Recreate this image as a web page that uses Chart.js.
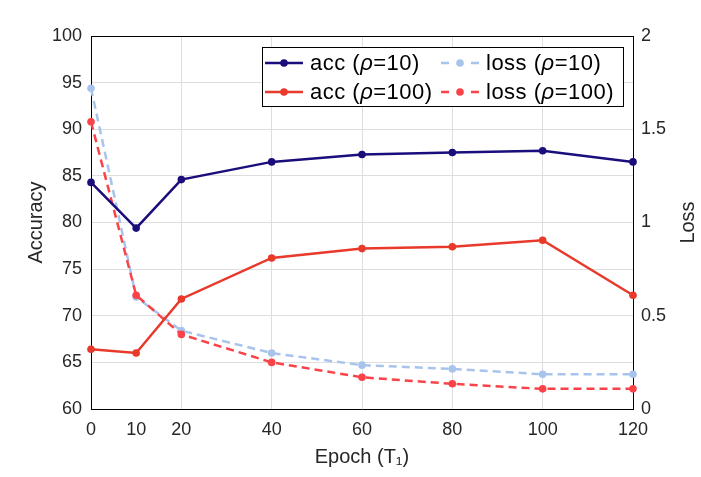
<!DOCTYPE html>
<html>
<head>
<meta charset="utf-8">
<script src="https://cdn.jsdelivr.net/npm/chart.js@4.4.0/dist/chart.umd.min.js"></script>
<style>
  body { margin: 0; background: #fff; }
  canvas { display: block; }
</style>
</head>
<body>
<canvas id="lossChart" width="701" height="477"></canvas>
<script>
// data
const epochs = [0, 10, 20, 40, 60, 80, 100, 120];
const xTicks = [0, 10, 20, 40, 60, 80, 100, 120];
const acc10 = [84.3, 79.4, 84.6, 86.5, 87.3, 87.5, 87.7, 86.5];
const acc100 = [66.4, 66.0, 71.8, 76.2, 77.2, 77.4, 78.1, 72.2];
const loss10 = [1.72, 0.60, 0.42, 0.30, 0.235, 0.215, 0.186, 0.186];
const loss100 = [1.54, 0.61, 0.40, 0.25, 0.17, 0.135, 0.108, 0.108];

const FONT = "'Liberation Sans', Arial, Helvetica, sans-serif";
const TXT = '#262626';

function pts(ys) {
  return epochs.map((x, i) => ({ x: x, y: ys[i] }));
}

function series(label, ys, color, axis, dashed, order) {
  return {
    label: label,
    data: pts(ys),
    yAxisID: axis,
    borderColor: color,
    backgroundColor: color,
    borderWidth: 2.5,
    borderDash: dashed ? [8, 5] : [],
    pointRadius: 3.8,
    pointHoverRadius: 3.8,
    pointBorderWidth: 0,
    tension: 0,
    clip: false,
    order: order,
    rho: label.match(/=(\d+)/)[1],
    kind: label.split(' ')[0]
  };
}

// legend box + top border + right axis title
const boxLegend = {
  id: 'boxLegend',
  afterDraw(chart) {
    const ctx = chart.ctx;
    const a = chart.chartArea;
    ctx.save();
    // top frame line
    ctx.strokeStyle = '#000';
    ctx.lineWidth = 1;
    ctx.beginPath();
    ctx.moveTo(a.left, a.top + 0.5);
    ctx.lineTo(a.right, a.top + 0.5);
    ctx.stroke();

    // "Loss" reading bottom to top
    ctx.fillStyle = TXT;
    ctx.font = '20px ' + FONT;
    ctx.textAlign = 'center';
    ctx.textBaseline = 'middle';
    ctx.translate(688, (a.top + a.bottom) / 2);
    ctx.rotate(-Math.PI / 2);
    ctx.fillText('Loss', 0, 0);
    ctx.restore();

    // legend
    ctx.save();
    const bx = a.right - 371, by = a.top + 11, bw = 361, bh = 59;
    ctx.fillStyle = '#fff';
    ctx.fillRect(bx, by, bw, bh);
    ctx.strokeStyle = '#000';
    ctx.lineWidth = 1;
    ctx.strokeRect(bx + 0.5, by + 0.5, bw, bh);

    const ds = chart.data.datasets;
    const cols = [bx + 3, bx + 179];
    const rows = [by + 16, by + 45];
    const place = [[0, 0], [0, 1], [1, 0], [1, 1]];
    ds.forEach((d, i) => {
      const x0 = cols[place[i][0]], y = rows[place[i][1]];
      ctx.strokeStyle = d.borderColor;
      ctx.lineWidth = 2.5;
      ctx.setLineDash(d.borderDash.length ? [8, 22, 8] : []);
      ctx.beginPath();
      ctx.moveTo(x0, y);
      ctx.lineTo(x0 + 38, y);
      ctx.stroke();
      ctx.setLineDash([]);
      ctx.fillStyle = d.borderColor;
      ctx.beginPath();
      ctx.arc(x0 + 19, y, 3.8, 0, Math.PI * 2);
      ctx.fill();

      ctx.fillStyle = '#000';
      ctx.textBaseline = 'middle';
      ctx.textAlign = 'left';
      ctx.letterSpacing = '0.5px';
      let tx = x0 + 45;
      const parts = [[d.kind + ' (', ''], ['\u03c1', 'italic '], ['=' + d.rho + ')', '']];
      parts.forEach(p => {
        ctx.font = p[1] + '22px ' + FONT;
        ctx.fillText(p[0], tx, y + 1);
        tx += ctx.measureText(p[0]).width;
      });
    });
    ctx.restore();
  }
};

const tickFont = { family: FONT, size: 18 };

new Chart(document.getElementById('lossChart'), {
  type: 'line',
  data: {
    datasets: [
      series('acc (\u03c1=10)', acc10, '#1a0d7c', 'y', false, 0),
      series('acc (\u03c1=100)', acc100, '#e8392a', 'y', false, 1),
      series('loss (\u03c1=10)', loss10, '#a8c4ec', 'y1', true, 3),
      series('loss (\u03c1=100)', loss100, '#fa4349', 'y1', true, 2)
    ]
  },
  options: {
    responsive: false,
    animation: false,
    devicePixelRatio: 1,
    layout: { padding: { top: 36, left: 0, right: 0, bottom: 0 } },
    plugins: {
      legend: { display: false },
      tooltip: { enabled: false }
    },
    scales: {
      x: {
        type: 'linear',
        min: 0,
        max: 120,
        afterBuildTicks: s => { s.ticks = xTicks.map(v => ({ value: v })); },
        afterFit: s => { s.height = 68; },
        grid: {
          color: c => (c.tick && c.tick.value === 10) ? 'rgba(0,0,0,0)' : '#dedede',
          drawTicks: false
        },
        border: { color: '#000', width: 1 },
        ticks: { font: tickFont, color: TXT, padding: 10, maxRotation: 0, autoSkip: false },
        title: {
          display: true,
          text: 'Epoch (T\u2081)',
          font: { family: FONT, size: 20 },
          color: TXT,
          padding: { top: 0, bottom: 8 }
        }
      },
      y: {
        position: 'left',
        min: 60,
        max: 100,
        afterFit: s => { s.width = 91; },
        grid: { color: '#dedede', drawTicks: false },
        border: { color: '#000', width: 1 },
        ticks: { stepSize: 5, font: tickFont, color: TXT, padding: 9 },
        title: {
          display: true,
          text: 'Accuracy',
          font: { family: FONT, size: 20 },
          color: TXT,
          padding: { top: 24, bottom: 0 }
        }
      },
      y1: {
        position: 'right',
        min: 0,
        max: 2,
        afterFit: s => { s.width = 68; },
        grid: { display: false, drawTicks: false },
        border: { color: '#000', width: 1 },
        ticks: { stepSize: 0.5, font: tickFont, color: TXT, padding: 8, callback: v => String(v) }
      }
    }
  },
  plugins: [boxLegend]
});
</script>
</body>
</html>
